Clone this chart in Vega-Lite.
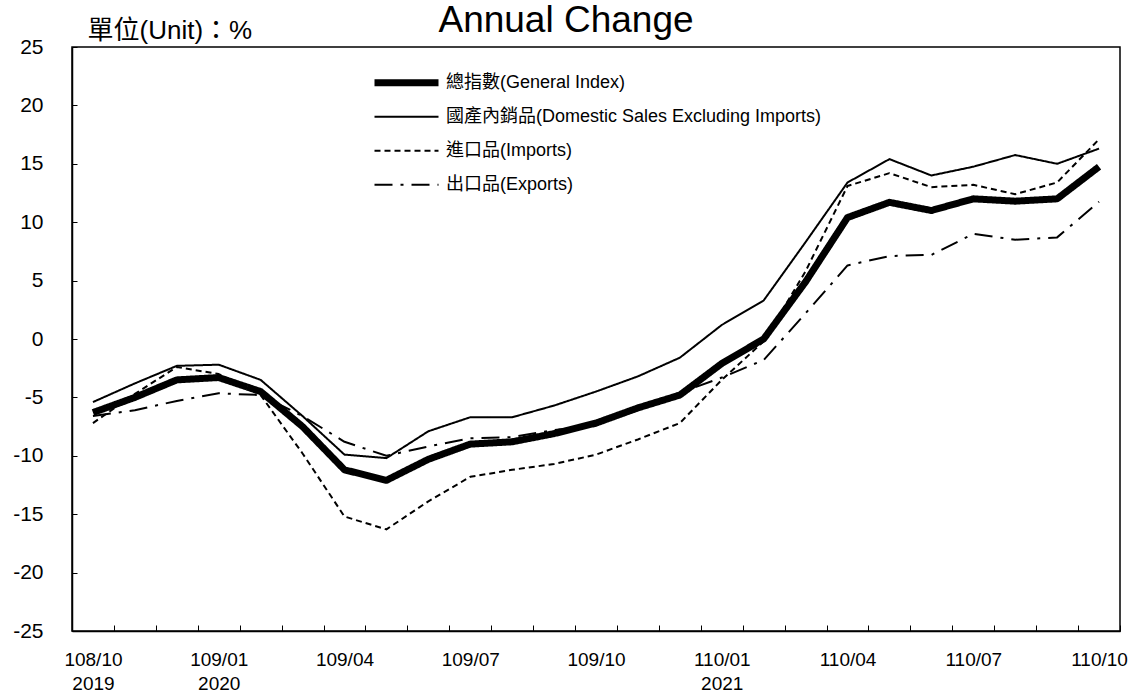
{
  "$schema": "https://vega.github.io/schema/vega-lite/v6.json",
  "autosize": "none",
  "width": 1048,
  "height": 584,
  "padding": {"left": 72, "top": 47, "right": 11, "bottom": 63},
  "background": "white",
  "title": {
    "text": "Annual Change",
    "frame": "group",
    "anchor": "middle",
    "dx": -30,
    "dy": 52,
    "baseline": "alphabetic",
    "offset": 0,
    "fontSize": 37,
    "fontWeight": "normal",
    "font": "Liberation Sans",
    "color": "black"
  },
  "config": {
    "view": {"stroke": "black", "strokeWidth": 1.5},
    "axis": {
      "labelFont": "Liberation Sans",
      "labelFontSize": 19,
      "labelColor": "black",
      "tickColor": "black",
      "domainColor": "black",
      "domainWidth": 1.5,
      "grid": false
    },
    "legend": {
      "labelFont": "Liberation Sans, Noto Sans CJK TC",
      "labelFontSize": 18,
      "labelColor": "black",
      "labelLimit": 0,
      "symbolStrokeColor": "black"
    }
  },
  "data": {
    "values": [
      {"m": "108/10", "s": "總指數(General Index)", "v": -6.3},
      {"m": "108/11", "s": "總指數(General Index)", "v": -5.0},
      {"m": "108/12", "s": "總指數(General Index)", "v": -3.5},
      {"m": "109/01", "s": "總指數(General Index)", "v": -3.3},
      {"m": "109/02", "s": "總指數(General Index)", "v": -4.5},
      {"m": "109/03", "s": "總指數(General Index)", "v": -7.5},
      {"m": "109/04", "s": "總指數(General Index)", "v": -11.2},
      {"m": "109/05", "s": "總指數(General Index)", "v": -12.1},
      {"m": "109/06", "s": "總指數(General Index)", "v": -10.3},
      {"m": "109/07", "s": "總指數(General Index)", "v": -9.0},
      {"m": "109/08", "s": "總指數(General Index)", "v": -8.8},
      {"m": "109/09", "s": "總指數(General Index)", "v": -8.1},
      {"m": "109/10", "s": "總指數(General Index)", "v": -7.2},
      {"m": "109/11", "s": "總指數(General Index)", "v": -5.9},
      {"m": "109/12", "s": "總指數(General Index)", "v": -4.8},
      {"m": "110/01", "s": "總指數(General Index)", "v": -2.1},
      {"m": "110/02", "s": "總指數(General Index)", "v": 0.0},
      {"m": "110/03", "s": "總指數(General Index)", "v": 4.9},
      {"m": "110/04", "s": "總指數(General Index)", "v": 10.4},
      {"m": "110/05", "s": "總指數(General Index)", "v": 11.7},
      {"m": "110/06", "s": "總指數(General Index)", "v": 11.0},
      {"m": "110/07", "s": "總指數(General Index)", "v": 12.0},
      {"m": "110/08", "s": "總指數(General Index)", "v": 11.8},
      {"m": "110/09", "s": "總指數(General Index)", "v": 12.0},
      {"m": "110/10", "s": "總指數(General Index)", "v": 14.75},
      {"m": "108/10", "s": "國產內銷品(Domestic Sales Excluding Imports)", "v": -5.4},
      {"m": "108/11", "s": "國產內銷品(Domestic Sales Excluding Imports)", "v": -3.8},
      {"m": "108/12", "s": "國產內銷品(Domestic Sales Excluding Imports)", "v": -2.3},
      {"m": "109/01", "s": "國產內銷品(Domestic Sales Excluding Imports)", "v": -2.2},
      {"m": "109/02", "s": "國產內銷品(Domestic Sales Excluding Imports)", "v": -3.5},
      {"m": "109/03", "s": "國產內銷品(Domestic Sales Excluding Imports)", "v": -6.6},
      {"m": "109/04", "s": "國產內銷品(Domestic Sales Excluding Imports)", "v": -9.9},
      {"m": "109/05", "s": "國產內銷品(Domestic Sales Excluding Imports)", "v": -10.2},
      {"m": "109/06", "s": "國產內銷品(Domestic Sales Excluding Imports)", "v": -7.9},
      {"m": "109/07", "s": "國產內銷品(Domestic Sales Excluding Imports)", "v": -6.7},
      {"m": "109/08", "s": "國產內銷品(Domestic Sales Excluding Imports)", "v": -6.7},
      {"m": "109/09", "s": "國產內銷品(Domestic Sales Excluding Imports)", "v": -5.7},
      {"m": "109/10", "s": "國產內銷品(Domestic Sales Excluding Imports)", "v": -4.5},
      {"m": "109/11", "s": "國產內銷品(Domestic Sales Excluding Imports)", "v": -3.2},
      {"m": "109/12", "s": "國產內銷品(Domestic Sales Excluding Imports)", "v": -1.6},
      {"m": "110/01", "s": "國產內銷品(Domestic Sales Excluding Imports)", "v": 1.2},
      {"m": "110/02", "s": "國產內銷品(Domestic Sales Excluding Imports)", "v": 3.3},
      {"m": "110/03", "s": "國產內銷品(Domestic Sales Excluding Imports)", "v": 8.3},
      {"m": "110/04", "s": "國產內銷品(Domestic Sales Excluding Imports)", "v": 13.4},
      {"m": "110/05", "s": "國產內銷品(Domestic Sales Excluding Imports)", "v": 15.4},
      {"m": "110/06", "s": "國產內銷品(Domestic Sales Excluding Imports)", "v": 14.0},
      {"m": "110/07", "s": "國產內銷品(Domestic Sales Excluding Imports)", "v": 14.75},
      {"m": "110/08", "s": "國產內銷品(Domestic Sales Excluding Imports)", "v": 15.75},
      {"m": "110/09", "s": "國產內銷品(Domestic Sales Excluding Imports)", "v": 15.0},
      {"m": "110/10", "s": "國產內銷品(Domestic Sales Excluding Imports)", "v": 16.3},
      {"m": "108/10", "s": "進口品(Imports)", "v": -7.2},
      {"m": "108/11", "s": "進口品(Imports)", "v": -4.7},
      {"m": "108/12", "s": "進口品(Imports)", "v": -2.4},
      {"m": "109/01", "s": "進口品(Imports)", "v": -3.0},
      {"m": "109/02", "s": "進口品(Imports)", "v": -4.8},
      {"m": "109/03", "s": "進口品(Imports)", "v": -9.8},
      {"m": "109/04", "s": "進口品(Imports)", "v": -15.2},
      {"m": "109/05", "s": "進口品(Imports)", "v": -16.3},
      {"m": "109/06", "s": "進口品(Imports)", "v": -13.9},
      {"m": "109/07", "s": "進口品(Imports)", "v": -11.8},
      {"m": "109/08", "s": "進口品(Imports)", "v": -11.2},
      {"m": "109/09", "s": "進口品(Imports)", "v": -10.7},
      {"m": "109/10", "s": "進口品(Imports)", "v": -9.9},
      {"m": "109/11", "s": "進口品(Imports)", "v": -8.6},
      {"m": "109/12", "s": "進口品(Imports)", "v": -7.2},
      {"m": "110/01", "s": "進口品(Imports)", "v": -3.5},
      {"m": "110/02", "s": "進口品(Imports)", "v": -0.2},
      {"m": "110/03", "s": "進口品(Imports)", "v": 5.8},
      {"m": "110/04", "s": "進口品(Imports)", "v": 13.1},
      {"m": "110/05", "s": "進口品(Imports)", "v": 14.2},
      {"m": "110/06", "s": "進口品(Imports)", "v": 13.0},
      {"m": "110/07", "s": "進口品(Imports)", "v": 13.2},
      {"m": "110/08", "s": "進口品(Imports)", "v": 12.4},
      {"m": "110/09", "s": "進口品(Imports)", "v": 13.4},
      {"m": "110/10", "s": "進口品(Imports)", "v": 17.1},
      {"m": "108/10", "s": "出口品(Exports)", "v": -6.6},
      {"m": "108/11", "s": "出口品(Exports)", "v": -6.1},
      {"m": "108/12", "s": "出口品(Exports)", "v": -5.3},
      {"m": "109/01", "s": "出口品(Exports)", "v": -4.65},
      {"m": "109/02", "s": "出口品(Exports)", "v": -4.8},
      {"m": "109/03", "s": "出口品(Exports)", "v": -6.6},
      {"m": "109/04", "s": "出口品(Exports)", "v": -8.8},
      {"m": "109/05", "s": "出口品(Exports)", "v": -10.0},
      {"m": "109/06", "s": "出口品(Exports)", "v": -9.2},
      {"m": "109/07", "s": "出口品(Exports)", "v": -8.5},
      {"m": "109/08", "s": "出口品(Exports)", "v": -8.4},
      {"m": "109/09", "s": "出口品(Exports)", "v": -7.8},
      {"m": "109/10", "s": "出口品(Exports)", "v": -7.4},
      {"m": "109/11", "s": "出口品(Exports)", "v": -5.9},
      {"m": "109/12", "s": "出口品(Exports)", "v": -4.6},
      {"m": "110/01", "s": "出口品(Exports)", "v": -3.3},
      {"m": "110/02", "s": "出口品(Exports)", "v": -1.8},
      {"m": "110/03", "s": "出口品(Exports)", "v": 2.2},
      {"m": "110/04", "s": "出口品(Exports)", "v": 6.3},
      {"m": "110/05", "s": "出口品(Exports)", "v": 7.1},
      {"m": "110/06", "s": "出口品(Exports)", "v": 7.2},
      {"m": "110/07", "s": "出口品(Exports)", "v": 9.0},
      {"m": "110/08", "s": "出口品(Exports)", "v": 8.5},
      {"m": "110/09", "s": "出口品(Exports)", "v": 8.7},
      {"m": "110/10", "s": "出口品(Exports)", "v": 11.75}
    ]
  },
  "mark": {"type": "line", "stroke": "black", "strokeJoin": "round"},
  "encoding": {
    "x": {
      "field": "m",
      "type": "ordinal",
      "bandPosition": 0.5,
      "scale": {"type": "band", "paddingInner": 0, "paddingOuter": 0},
      "axis": {
        "title": null,
        "labelAngle": 0,
        "tickBand": "extent",
        "tickSize": -6,
        "labelPadding": 25,
        "labelLineHeight": 24,
        "labelOverlap": false,
        "labelExpr": "datum.value == '108/10' ? ['108/10','2019'] : datum.value == '109/01' ? ['109/01','2020'] : datum.value == '110/01' ? ['110/01','2021'] : (indexof(['109/04','109/07','109/10','110/04','110/07','110/10'], datum.value) >= 0 ? datum.value : '')"
      }
    },
    "y": {
      "field": "v",
      "type": "quantitative",
      "scale": {"domain": [-25, 25], "nice": false, "zero": false},
      "axis": {
        "values": [-25, -20, -15, -10, -5, 0, 5, 10, 15, 20, 25],
        "tickSize": -5,
        "labelPadding": 34,
        "labelFontSize": 21,
        "labelExpr": "datum.value + ''",
        "title": "單位(Unit)：%",
        "titleAngle": 0,
        "titleAlign": "left",
        "titleBaseline": "alphabetic",
        "titleX": 15,
        "titleY": -9,
        "titleFont": "Liberation Sans, Noto Sans CJK TC",
        "titleFontSize": 26,
        "titleFontWeight": "normal",
        "titleColor": "black"
      }
    },
    "strokeDash": {
      "field": "s",
      "type": "nominal",
      "sort": ["總指數(General Index)", "國產內銷品(Domestic Sales Excluding Imports)", "進口品(Imports)", "出口品(Exports)"],
      "scale": {
        "type": "ordinal",
        "domain": ["總指數(General Index)", "國產內銷品(Domestic Sales Excluding Imports)", "進口品(Imports)", "出口品(Exports)"],
        "range": [[1, 0], [1, 0], [6, 4], [18, 8, 3, 8]]
      },
      "legend": {
        "title": null,
        "orient": "none",
        "legendX": 299,
        "legendY": 20,
        "symbolType": "stroke",
        "symbolSize": 4096,
        "clipHeight": 31.5,
        "rowPadding": 2,
        "labelOffset": 4,
        "labelLimit": 0
      }
    },
    "strokeWidth": {
      "field": "s",
      "type": "nominal",
      "sort": ["總指數(General Index)", "國產內銷品(Domestic Sales Excluding Imports)", "進口品(Imports)", "出口品(Exports)"],
      "scale": {
        "type": "ordinal",
        "domain": ["總指數(General Index)", "國產內銷品(Domestic Sales Excluding Imports)", "進口品(Imports)", "出口品(Exports)"],
        "range": [7, 2, 2, 2]
      },
      "legend": {
        "title": null,
        "orient": "none",
        "legendX": 299,
        "legendY": 20,
        "symbolType": "stroke",
        "symbolSize": 4096,
        "clipHeight": 31.5,
        "rowPadding": 2,
        "labelOffset": 4,
        "labelLimit": 0
      }
    }
  }
}
